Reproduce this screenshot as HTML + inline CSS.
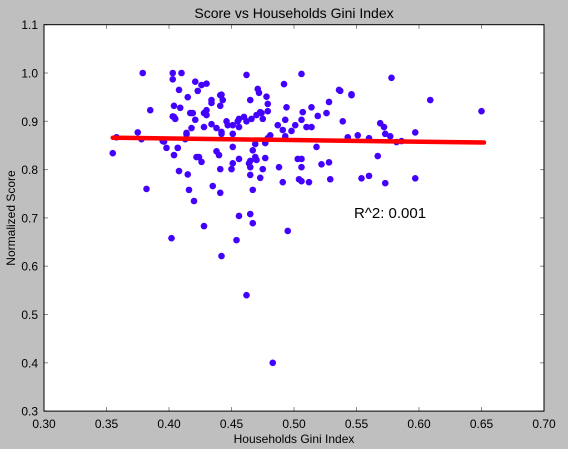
<!DOCTYPE html>
<html><head><meta charset="utf-8"><style>
body{margin:0;background:#bfbfbf;}
svg{display:block;font-family:"Liberation Sans",sans-serif;}
</style></head><body>
<svg id="chart" width="568" height="449" viewBox="0 0 568 449">
<rect width="568" height="449" fill="#bfbfbf"/>
<rect x="44" y="24.7" width="500" height="386.4" fill="#fff"/>
<g id="ticks"></g>
<g id="points"></g>
<g id="fit"></g>
<rect x="44" y="24.7" width="500" height="386.4" fill="none" stroke="#000" stroke-width="1"/>
<text x="294" y="18" text-anchor="middle" font-size="14">Score vs Households Gini Index</text>
<text x="294" y="443" text-anchor="middle" font-size="12">Households Gini Index</text>
<text x="15" y="218" text-anchor="middle" font-size="12" transform="rotate(-90 15 218)">Normalized Score</text>
<text x="354" y="218" font-size="15">R^2: 0.001</text>
</svg>
<script>
const xTicks=[0.30,0.35,0.40,0.45,0.50,0.55,0.60,0.65,0.70];
const xTickLabels=["0.30","0.35","0.40","0.45","0.50","0.55","0.60","0.65","0.70"];
const yTicks=[0.3,0.4,0.5,0.6,0.7,0.8,0.9,1.0,1.1];
const yTickLabels=["0.3","0.4","0.5","0.6","0.7","0.8","0.9","1.0","1.1"];
const giniX=[0.355,0.358,0.375,0.378,0.382,0.396,0.398,0.404,0.405,0.404,0.407,0.408,0.415,0.416,0.402,0.414,0.413,
0.379,0.385,0.403,0.41,0.403,0.408,0.415,0.404,0.409,0.403,0.417,0.419,0.421,0.423,0.421,0.418,0.414,0.395,0.407,
0.426,0.430,0.434,0.434,0.441,0.442,0.443,0.441,0.43,0.428,0.43,0.428,0.434,0.438,0.442,0.442,0.446,0.447,0.451,0.451,0.455,0.456,0.456,0.46,0.462,0.466,0.462,0.465,0.471,0.472,0.478,0.479,0.47,0.473,0.474,0.475,0.479,0.492,0.506,0.494,0.493,0.487,0.491,0.498,0.501,0.507,0.506,0.51,0.514,0.514,0.519,0.526,0.528,0.536,
0.42,0.422,0.424,0.426,0.435,0.441,0.438,0.44,0.441,0.451,0.45,0.451,0.456,0.465,0.465,0.464,0.465,0.467,0.469,0.47,0.469,0.473,0.467,0.475,0.477,0.477,0.479,0.481,0.488,0.491,0.493,0.503,0.506,0.506,0.504,0.506,0.512,0.518,0.522,0.528,0.529,
0.456,0.465,0.467,0.428,0.454,0.495,0.442,0.462,0.483,
0.578,0.537,0.546,0.546,0.609,0.65,0.539,0.569,0.572,0.597,0.573,0.577,0.543,0.551,0.56,0.582,0.586,0.567,0.554,0.56,0.573,0.597];
const scoreY=[0.834,0.867,0.877,0.863,0.76,0.858,0.845,0.909,0.905,0.83,0.845,0.797,0.79,0.758,0.658,0.873,0.863,
1.0,0.923,1.0,1.0,0.987,0.965,0.95,0.932,0.928,0.91,0.917,0.917,0.982,0.963,0.903,0.886,0.876,0.859,0.845,
0.975,0.978,0.944,0.938,0.954,0.955,0.944,0.932,0.923,0.917,0.913,0.888,0.894,0.886,0.878,0.874,0.9,0.892,0.892,0.874,0.9,0.905,0.888,0.909,0.9,0.905,0.996,0.944,0.967,0.959,0.951,0.936,0.913,0.919,0.917,0.905,0.921,0.977,0.998,0.929,0.903,0.892,0.882,0.88,0.892,0.919,0.903,0.888,0.888,0.929,0.911,0.917,0.94,0.965,
0.735,0.826,0.826,0.816,0.766,0.752,0.838,0.83,0.801,0.847,0.801,0.813,0.822,0.789,0.818,0.813,0.805,0.84,0.826,0.82,0.853,0.783,0.758,0.801,0.824,0.855,0.865,0.871,0.805,0.774,0.869,0.822,0.822,0.805,0.78,0.776,0.774,0.847,0.811,0.815,0.78,
0.704,0.708,0.689,0.683,0.654,0.673,0.621,0.54,0.4,
0.99,0.963,0.954,0.956,0.944,0.921,0.9,0.896,0.888,0.877,0.874,0.869,0.867,0.871,0.865,0.857,0.859,0.828,0.782,0.787,0.772,0.782];
const fitX=[0.355,0.652];
const fitY=[0.866,0.856];

const NS="http://www.w3.org/2000/svg";
const L=44,R=544,T=24.7,B=411.1;
const xs=v=>L+(v-0.3)/(0.7-0.3)*(R-L);
const ys=v=>B-(v-0.3)/(1.1-0.3)*(B-T);
function mk(tag,attrs,parent){const e=document.createElementNS(NS,tag);for(const k in attrs)e.setAttribute(k,attrs[k]);parent.appendChild(e);return e;}
const tg=document.getElementById('ticks');
xTicks.forEach((v,i)=>{const x=xs(v);
 const t1=mk('line',{x1:x,x2:x,y1:B,y2:B-4,stroke:'#888'},tg);
 
 
 const t2=mk('line',{x1:x,x2:x,y1:T,y2:T+4,stroke:'#888'},tg);
 
 
 const lb=mk('text',{x:x,y:428,'text-anchor':'middle','font-size':12},tg);lb.textContent=xTickLabels[i];
 
 
});
yTicks.forEach((v,i)=>{const y=ys(v);
 const t1=mk('line',{x1:L,x2:L+4,y1:y,y2:y,stroke:'#888'},tg);
 
 
 const t2=mk('line',{x1:R,x2:R-4,y1:y,y2:y,stroke:'#888'},tg);
 
 
 const lb=mk('text',{x:38,y:y+4.5,'text-anchor':'end','font-size':12},tg);lb.textContent=yTickLabels[i];
 
 
});
const pg=document.getElementById('points');
giniX.forEach((v,i)=>{const c=mk('circle',{cx:xs(v),cy:ys(scoreY[i]),r:3.3,fill:'#4400ff'},pg);
 
 
});
const fl=mk('line',{x1:xs(fitX[0]),y1:ys(fitY[0]),x2:xs(fitX[1]),y2:ys(fitY[1]),stroke:'#ff0000','stroke-width':4.5,'stroke-linecap':'round'},document.getElementById('fit'));


</script>
</body></html>
